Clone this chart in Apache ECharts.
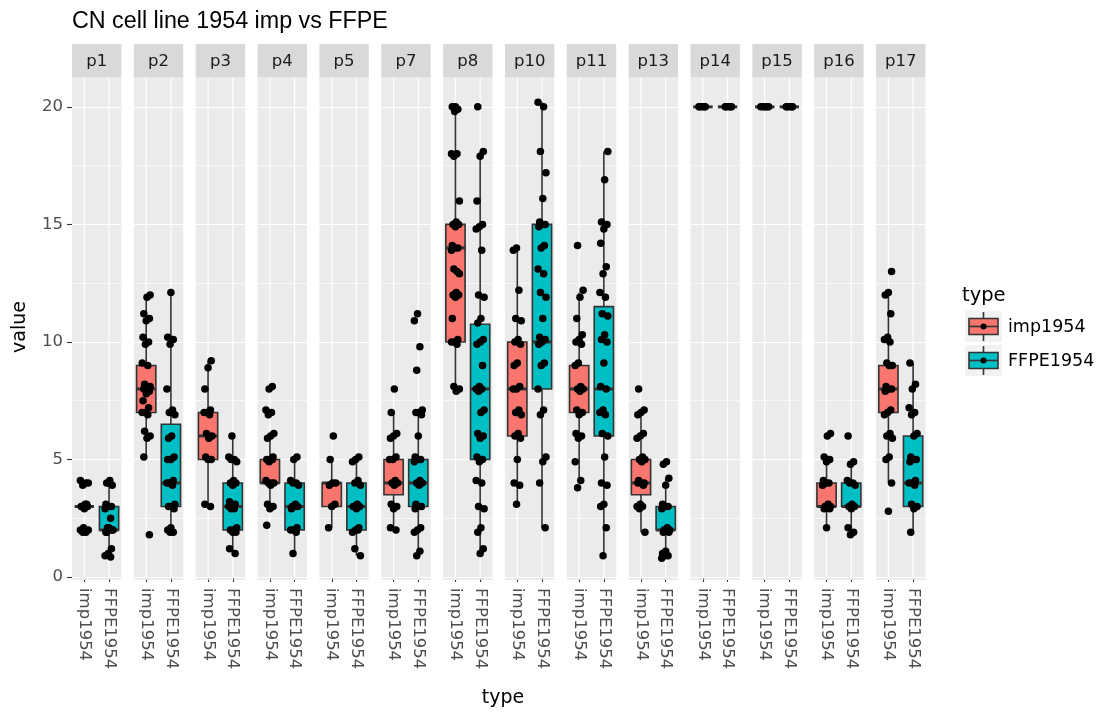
<!DOCTYPE html>
<html><head><meta charset="utf-8">
<script src="https://cdn.jsdelivr.net/npm/echarts@6/dist/echarts.min.js"></script>
<style>html,body{margin:0;padding:0;background:#fff}#c{width:1107px;height:713px}</style>
</head><body><div id="c"></div>
<script>
// ---------------- data ----------------
const panels = ['p1','p2','p3','p4','p5','p7','p8','p10','p11','p13','p14','p15','p16','p17'];
const types = ['imp1954','FFPE1954'];
const yTicks = [0,5,10,15,20];
// box stats: [lower whisker, Q1, median, Q3, upper whisker]
const impStats = [
  [3,3,3,3,3],[5.1,7,8,9,12],[3.1,5,6,7,9.2],[3,4,4,5,6.1],[2.1,3,4,4,5],
  [2,3.5,4,5,7],[7.9,10,14,15,20],[3.1,6,8,10,14],[4.1,7,8,9,12.1],[1.9,3.5,4,5,7.1],
  [20,20,20,20,20],[20,20,20,20,20],[2.1,3,3,4,5.1],[4,7,8,9,12.1]
];
const ffpeStats = [
  [0.9,2,2,3,4.1],[1.9,3,4,6.5,12.1],[1,2,3,4,6],[1,2,3,4,5.1],[0.9,2,3,4,5.1],
  [0.9,3,4,5,7.1],[1,5,8,10.75,18.1],[2.1,8,10,15,20.2],[0.9,6,8,11.5,18.1],[0.8,2,2,3,4.2],
  [20,20,20,20,20],[20,20,20,20,20],[1.8,3,3,4,4.9],[1.9,3,4,6,9.1]
];
const impPoints = [
  [4.1,4.0,3.9,4.0,3.1,3.0,3.0,2.9,3.0,3.1,2.1,2.0,1.9,1.9,2.0],
  [12.0,11.9,11.2,11.0,10.9,10.2,10.0,9.9,9.1,9.0,8.2,8.1,8.0,8.0,7.9,7.8,7.5,7.2,7.0,7.0,6.9,6.2,6.0,5.9,5.1,1.8],
  [9.2,8.9,8.0,7.1,7.0,7.0,6.9,6.1,6.0,5.9,5.1,5.0,5.0,3.1,3.0],
  [8.1,8.0,7.1,7.0,6.9,6.1,6.0,5.9,5.1,5.0,5.0,5.0,4.9,4.1,4.0,4.0,4.0,3.9,3.1,3.0,2.9,2.2],
  [6.0,5.0,4.0,4.0,3.9,3.1,3.0,2.1],
  [8.0,7.0,6.1,6.0,5.9,5.1,5.0,5.0,4.1,4.0,4.0,3.9,3.1,3.0,2.9,2.1,2.0],
  [20.0,20.0,19.9,19.8,18.0,18.0,17.9,16.0,15.1,15.0,15.0,14.9,14.1,14.0,14.0,13.9,13.0,13.1,12.9,12.1,12.0,12.0,11.9,11.0,10.1,10.0,10.0,9.9,8.1,8.0,7.9],
  [14.0,13.9,12.2,11.0,10.9,10.1,10.0,9.9,9.1,9.0,8.1,8.0,8.0,7.1,7.0,6.9,6.1,6.0,5.9,5.0,4.0,3.9,3.1],
  [14.1,12.2,11.9,11.0,10.3,10.1,10.0,9.9,9.1,9.0,8.1,8.0,8.0,7.9,7.1,7.0,6.9,6.1,6.0,5.9,4.9,4.1,3.8],
  [8.0,7.1,7.0,6.9,6.1,6.0,5.9,5.1,5.0,5.0,4.9,4.1,4.0,4.0,4.0,3.9,3.1,3.0,3.0,2.9,1.9],
  [20.0,20.0,20.0,20.0,20.0],
  [20.0,20.0,20.0,20.0,20.0],
  [6.1,6.0,5.1,5.0,4.9,4.1,4.0,4.0,3.9,3.1,3.0,3.0,3.0,2.9,2.9,2.1],
  [13.0,12.1,12.0,11.2,10.2,10.1,10.0,9.1,9.0,9.0,8.1,8.0,8.0,7.9,7.1,7.0,6.9,6.1,6.0,5.9,5.1,5.0,4.0,2.8]
];
const ffpePoints = [
  [4.1,4.0,3.9,4.0,3.1,3.0,3.0,2.9,2.5,2.1,2.0,2.0,1.9,2.0,2.1,1.9,1.2,1.0,0.9,0.85],
  [12.1,10.2,10.1,9.9,8.0,7.1,7.0,6.9,6.0,5.9,5.1,5.0,5.0,4.1,4.0,4.0,3.9,4.0,3.1,3.0,3.0,2.9,2.1,2.0,1.9,1.9],
  [6.0,5.1,5.0,5.0,4.9,4.1,4.0,4.0,3.9,3.2,3.1,3.0,3.0,2.9,2.9,2.1,2.0,2.0,1.9,1.9,1.2,1.0],
  [5.1,5.0,4.1,4.0,4.0,3.9,3.1,3.0,3.0,3.0,2.9,2.1,2.0,2.0,1.9,1.0],
  [5.1,5.0,4.9,4.1,4.0,3.9,3.1,3.0,3.0,2.9,3.0,2.1,2.0,1.9,2.0,1.2,0.9],
  [11.2,10.9,9.8,8.8,7.1,7.0,7.0,6.9,6.0,5.1,5.0,5.0,4.9,4.1,4.0,4.0,3.9,3.1,3.0,3.0,2.9,2.1,2.0,1.9,1.1,0.9],
  [20.0,18.1,17.9,16.0,15.0,14.9,14.8,13.9,12.0,11.9,11.0,10.8,10.1,10.0,9.9,9.0,8.1,8.0,8.0,7.9,7.1,7.0,6.1,6.0,5.9,5.1,5.0,4.9,4.1,4.0,3.0,2.9,2.1,1.9,1.2,1.0],
  [20.2,20.0,18.1,17.2,16.1,15.1,15.0,15.0,14.9,14.1,14.0,13.1,12.9,12.1,11.9,11.0,10.2,10.1,10.0,9.9,9.1,9.0,8.0,7.1,6.9,5.1,4.9,4.0,2.1],
  [18.1,16.9,15.1,15.0,14.8,14.2,13.2,12.9,12.1,11.9,11.2,11.1,10.3,10.1,10.0,9.1,8.1,8.0,7.1,7.0,6.9,6.1,6.0,5.1,4.0,3.9,3.1,3.0,2.1,0.9],
  [4.9,4.8,4.2,3.9,3.1,3.0,3.0,2.9,2.1,2.0,2.0,2.0,1.9,1.9,1.1,1.0,0.9,0.9,0.8],
  [20.0,20.0,20.0,20.0,20.0],
  [20.0,20.0,20.0,20.0,20.0],
  [6.0,4.9,4.8,4.1,4.0,4.0,3.9,3.1,3.0,3.0,2.9,2.1,1.9,1.8],
  [9.1,8.2,8.0,7.2,7.0,6.9,6.1,6.0,5.1,5.0,5.0,4.9,4.1,4.0,4.0,3.9,3.1,3.0,2.9,1.9]
];

// ---------------- layout / style ----------------
const COLORS = ['#F8766D', '#00BFC4'];
const FONT = '"DejaVu Sans", "Liberation Sans", sans-serif';
const TFONT = '"Liberation Sans", Arial, sans-serif';
const P0 = 72, STEP = 61.85, PW = 49.4, TOP = 77, ZERO = 577, PBOT = 580;
const STRIP_TOP = 44;
const YMAX = 21.27;

const chart = echarts.init(document.getElementById('c'), null, {renderer: 'canvas'});

const grids = [], xAxes = [], yAxes = [], series = [], graphics = [];

function jitter(k) { return (((k * 7) % 11) - 5) * 0.032; }

panels.forEach((p, i) => {
  const left = P0 + i * STEP;
  grids.push({left: left, top: TOP, width: PW, height: ZERO - TOP, show: true,
    backgroundColor: '#EBEBEB', borderWidth: 0, containLabel: false});
  // category axis for ticks & labels
  xAxes.push({type: 'category', gridIndex: i, data: types, position: 'bottom', offset: 3,
    axisLine: {show: false},
    axisTick: {show: true, alignWithLabel: true, interval: 0, length: 5, lineStyle: {color: '#333333', width: 1.1}},
    axisLabel: {show: true, interval: 0, rotate: -90, fontSize: 16.5, color: '#4D4D4D', fontFamily: FONT, margin: 8},
    splitLine: {show: false}});
  // hidden value axis for marks
  xAxes.push({type: 'value', gridIndex: i, min: -0.5, max: 1.5, show: false});
  // minor y
  yAxes.push({type: 'value', gridIndex: i, position: 'left', min: 0, max: YMAX, interval: 2.5,
    axisLine: {show: false}, axisTick: {show: false}, axisLabel: {show: false},
    splitLine: {show: true, lineStyle: {color: '#FFFFFF', width: 0.6}}});
  // major y
  yAxes.push({type: 'value', gridIndex: i, position: 'left', offset: 0, min: 0, max: YMAX, interval: 5, z: 1,
    axisLine: {show: false},
    axisTick: {show: i === 0, length: 5, customValues: yTicks, lineStyle: {color: '#333333', width: 1.1}},
    axisLabel: {show: i === 0, customValues: yTicks, fontSize: 16.5, color: '#4D4D4D', fontFamily: FONT, margin: 9,
      formatter: v => (yTicks.indexOf(v) >= 0 ? String(v) : '')},
    splitLine: {show: true, lineStyle: {color: '#FFFFFF', width: 1.2}},
    name: i === 0 ? 'value' : '', nameLocation: 'middle', nameGap: 42, nameRotate: 90,
    nameTextStyle: {fontSize: 19, color: '#000000', fontFamily: FONT}});

  const xi = 2 * i + 1, yi = 2 * i + 1;
  // vertical grid lines at category centres
  series.push({type: 'custom', xAxisIndex: xi, yAxisIndex: yi, z: 1, silent: true,
    data: [[0], [1]],
    renderItem: (params, api) => {
      const x = api.coord([api.value(0), 0])[0];
      const cs = params.coordSys;
      return {type: 'line', shape: {x1: x, y1: cs.y, x2: x, y2: cs.y + cs.height + (PBOT - ZERO)},
        style: {stroke: '#FFFFFF', lineWidth: 1.2}};
    }});
  // boxes
  const boxData = [impStats[i], ffpeStats[i]].map((s, t) => ({
    value: [t, s[0], s[1], s[2], s[3], s[4]], itemStyle: {color: COLORS[t]}}));
  series.push({type: 'custom', xAxisIndex: xi, yAxisIndex: yi, z: 2, silent: true,
    data: boxData,
    renderItem: (params, api) => {
      const x = api.value(0);
      const c = api.coord([x, api.value(1)]);
      const pMin = c[1];
      const pQ1 = api.coord([x, api.value(2)])[1];
      const pMed = api.coord([x, api.value(3)])[1];
      const pQ3 = api.coord([x, api.value(4)])[1];
      const pMax = api.coord([x, api.value(5)])[1];
      const bw = api.size([1, 0])[0] * 0.78;
      const cx = c[0];
      const stroke = '#333333';
      return {type: 'group', children: [
        {type: 'line', shape: {x1: cx, y1: pMin, x2: cx, y2: pQ1}, style: {stroke, lineWidth: 1.6}},
        {type: 'line', shape: {x1: cx, y1: pQ3, x2: cx, y2: pMax}, style: {stroke, lineWidth: 1.6}},
        {type: 'rect', shape: {x: cx - bw / 2, y: pQ3, width: bw, height: pQ1 - pQ3},
          style: {fill: api.visual('color'), stroke, lineWidth: 1.6}},
        {type: 'line', shape: {x1: cx - bw / 2, y1: pMed, x2: cx + bw / 2, y2: pMed}, style: {stroke, lineWidth: 3}}
      ]};
    }});
  // jittered points
  const pts = [];
  let k = i * 3;
  impPoints[i].forEach(v => { pts.push([0 + jitter(k++), v]); });
  ffpePoints[i].forEach(v => { pts.push([1 + jitter(k++), v]); });
  series.push({type: 'scatter', xAxisIndex: xi, yAxisIndex: yi, z: 3, silent: true,
    symbol: 'circle', symbolSize: 7.5, itemStyle: {color: '#000000', opacity: 1}, data: pts});

  // strip
  graphics.push({type: 'rect', z: 100, shape: {x: left, y: STRIP_TOP, width: PW, height: TOP - STRIP_TOP + 0.5},
    style: {fill: '#D9D9D9'}});
  graphics.push({type: 'text', z: 101, x: left + PW / 2, y: (STRIP_TOP + TOP) / 2 + 1,
    style: {text: p, fill: '#1A1A1A', font: '16.5px ' + FONT, textAlign: 'center', textVerticalAlign: 'middle'}});
  // panel extension below zero line
  graphics.push({type: 'rect', z: 0, shape: {x: left, y: ZERO, width: PW, height: PBOT - ZERO},
    style: {fill: '#EBEBEB'}});
});

// legend (ggplot style keys)
const LX = 965, LY = [311, 345], KW = 37, KH = 31;
graphics.push({type: 'text', x: 962, y: 296, style: {text: 'type', fill: '#000000', font: '19.5px ' + FONT, textVerticalAlign: 'middle'}});
types.forEach((t, j) => {
  const y0 = LY[j], cx = LX + KW / 2, cy = y0 + KH / 2;
  graphics.push({type: 'rect', shape: {x: LX, y: y0, width: KW, height: KH}, style: {fill: '#F2F2F2'}});
  graphics.push({type: 'line', shape: {x1: cx, y1: y0 + 1, x2: cx, y2: y0 + KH - 1}, style: {stroke: '#333333', lineWidth: 1.6}});
  graphics.push({type: 'rect', shape: {x: LX + 4, y: y0 + 7.5, width: KW - 8, height: KH - 15},
    style: {fill: COLORS[j], stroke: '#333333', lineWidth: 1.6}});
  graphics.push({type: 'line', shape: {x1: LX + 4, y1: cy, x2: LX + KW - 4, y2: cy}, style: {stroke: '#333333', lineWidth: 1.6}});
  graphics.push({type: 'circle', shape: {cx: cx, cy: cy, r: 3}, style: {fill: '#000000'}});
  graphics.push({type: 'text', x: 1008, y: cy + 1, style: {text: t, fill: '#000000', font: '17.5px ' + FONT, textVerticalAlign: 'middle'}});
});

chart.setOption({
  animation: false,
  backgroundColor: '#FFFFFF',
  title: [
    {text: 'CN cell line 1954 imp vs FFPE', left: 67, top: 5,
      textStyle: {fontSize: 23.3, fontWeight: 'normal', color: '#000000', fontFamily: TFONT}},
    {text: 'type', left: 498, top: 684, textAlign: 'center',
      textStyle: {fontSize: 19, fontWeight: 'normal', color: '#000000', fontFamily: FONT}}
  ],
  grid: grids, xAxis: xAxes, yAxis: yAxes, series: series,
  graphic: {elements: graphics}
});
</script></body></html>
